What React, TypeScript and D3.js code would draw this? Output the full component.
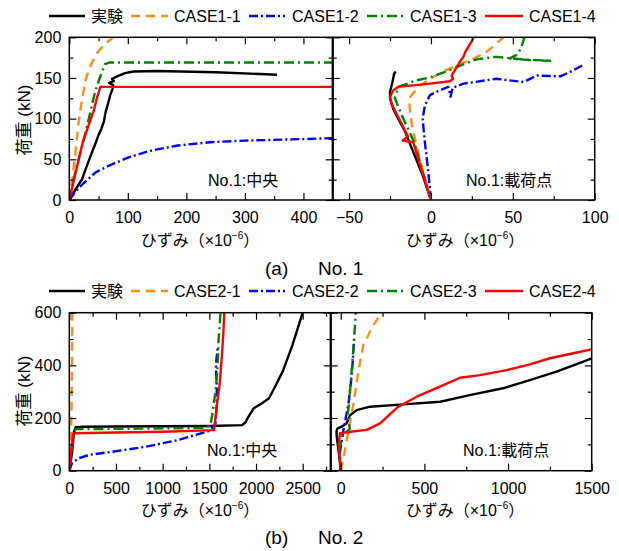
import React, { useEffect, useRef } from "react";
import * as d3 from "d3";

type Pt = [number, number];

const names1 = ["実験", "CASE1-1", "CASE1-2", "CASE1-3", "CASE1-4"];
const names2 = ["実験", "CASE2-1", "CASE2-2", "CASE2-3", "CASE2-4"];

// No.1 : 中央  (strain x10^-6, load kN)
const n1cExp: Pt[] = [[0, 0], [10, 12], [22, 26], [30, 42], [39, 59], [45, 70], [50, 80], [55, 88], [59, 96], [62, 108], [66, 118], [70, 129], [74, 137], [75, 141], [68, 144], [76, 146], [73, 149], [85, 153], [95, 156], [110, 158], [150, 158.5], [250, 157], [355, 154]];
const n1cC1: Pt[] = [[0, 0], [5, 25], [10, 55], [16, 96], [22, 125], [28, 148], [35, 163], [45, 178], [58, 190], [75, 200]];
const n1cC2: Pt[] = [[0, 0], [10, 10], [22, 19], [45, 34], [70, 43], [100, 52], [135, 60], [185, 67], [240, 71], [300, 73], [380, 74.5], [450, 76]];
const n1cC3: Pt[] = [[0, 0], [12, 40], [24, 72], [35, 105], [44, 133], [52, 150], [61, 167], [68, 169], [450, 169]];
const n1cC4: Pt[] = [[0, 0], [23, 71], [33, 92], [42, 110], [47, 125], [53, 139], [450, 139]];

// No.1 : 載荷点
const n1lExp: Pt[] = [[0, 0], [-5, 30], [-10, 55], [-12, 65], [-16, 85], [-20, 100], [-23, 112], [-25, 125], [-25, 133], [-23.5, 145], [-22.5, 155], [-21.5, 158]];
const n1lC1: Pt[] = [[0, 0], [-4.7, 34], [-8.8, 67], [-11.8, 94], [-12.9, 112], [-13.3, 125], [-7.7, 139], [-0.6, 149], [9.6, 160], [24, 172], [34, 182], [44.4, 200]];
const n1lC2: Pt[] = [[0, 0], [-1.6, 34], [-3.7, 71], [-5.1, 100], [-3.7, 116], [-0.6, 129], [5.5, 135], [10.6, 139], [12, 127], [13.2, 138], [19.8, 143], [40, 149], [56.5, 145], [64.7, 153], [79, 152], [85, 157.5], [93, 166]];
const n1lC3: Pt[] = [[0, 0], [-10, 70], [-18, 105], [-22, 125], [-20, 139], [-9, 147], [0, 151], [12, 160], [20, 167], [28, 173], [40, 176], [55, 173], [74, 171], [60, 172], [48, 174], [52, 178], [55, 186], [57, 200]];
const n1lC4: Pt[] = [[0, 0], [-5.5, 35], [-10.8, 71], [-17.3, 73], [-14, 78], [-19, 98], [-24, 118], [-25, 127], [-23, 135], [-20, 139], [-0.6, 143], [11.6, 146], [13.6, 149], [12.6, 153], [17.7, 170], [19.8, 176], [21, 182], [26, 199]];

// No.2 : 中央
const n2cExp: Pt[] = [[0, 0], [30, 70], [50, 148], [70, 165], [150, 167], [500, 168], [1000, 169], [1500, 170], [1850, 173], [1890, 185], [1910, 200], [1975, 237], [2060, 255], [2140, 275], [2220, 330], [2290, 380], [2390, 477], [2500, 600]];
const n2cC1: Pt[] = [[0, 0], [15, 120], [22, 200], [27, 350], [30, 500], [32, 600]];
const n2cC2: Pt[] = [[0, 0], [30, 30], [100, 47], [210, 60], [460, 72], [820, 91], [1170, 117], [1500, 151], [1565, 175], [1580, 250], [1580, 320], [1570, 400], [1590, 470]];
const n2cC3: Pt[] = [[0, 0], [30, 80], [55, 150], [70, 158], [200, 158], [800, 160], [1450, 163], [1510, 172], [1530, 210], [1565, 300], [1585, 376], [1600, 500], [1620, 600]];
const n2cC4: Pt[] = [[0, 0], [40, 140], [60, 142], [500, 145], [1000, 148], [1550, 154], [1565, 200], [1585, 260], [1610, 325], [1635, 440], [1650, 520], [1660, 600]];

// No.2 : 載荷点
const n2lExp: Pt[] = [[0, 0], [-8, 50], [-18, 100], [-24, 130], [-25, 150], [-20, 160], [5, 167], [35, 180], [55, 210], [95, 230], [175, 243], [375, 252], [595, 262], [770, 287], [970, 313], [1130, 344], [1290, 376], [1450, 414], [1500, 427]];
const n2lC1: Pt[] = [[0, 0], [20, 60], [40, 130], [60, 200], [75, 250], [105, 376], [135, 477], [195, 553], [245, 600]];
const n2lC2: Pt[] = [[0, 0], [-5, 70], [15, 150], [30, 200], [45, 250], [60, 330], [70, 400], [80, 500]];
const n2lC3: Pt[] = [[0, 0], [-8, 80], [10, 130], [55, 160], [40, 200], [50, 260], [65, 376], [80, 503], [90, 600]];
const n2lC4: Pt[] = [[2, 0], [-14, 98], [-4, 142], [56, 148], [155, 155], [235, 180], [344, 243], [454, 281], [593, 319], [713, 353], [832, 363], [992, 382], [1131, 404], [1250, 427], [1390, 446], [1500, 461]];

const STYLES = [
  { color: "#000000", dash: null as string | null },
  { color: "#ff8c1a", dash: "9,6" },
  { color: "#0000ff", dash: "9,3,2,3" },
  { color: "#008000", dash: "10,4,2,4" },
  { color: "#ff0000", dash: null as string | null },
];

const FONT = "'Liberation Sans', Arial, 'Noto Sans CJK JP', sans-serif";

const App = () => {
  const svgRef = useRef<SVGSVGElement>(null);

  useEffect(() => {
    const svg = d3.select(svgRef.current).attr("width", 619).attr("height", 551);
    svg.selectAll("*").remove();
    svg.attr("font-family", FONT);

    const groups = [
      {
        names: names1, legendY: 16, yLabelY: 120, xLabelY: 246, caption: ["(a)", "No. 1"], captionY: 275,
        y: d3.scaleLinear().domain([0, 200]).range([200, 37.3]),
        yMajor: [0, 50, 100, 150, 200], yMinor: [25, 75, 125, 175],
        panels: [
          { x: d3.scaleLinear().domain([0, 450]).range([69.3, 332.7]), major: [0, 100, 200, 300, 400], minor: [50, 150, 250, 350], data: [n1cExp, n1cC1, n1cC2, n1cC3, n1cC4], note: "No.1:中央", noteX: 208, xLabelX: 200, labelsY: true },
          { x: d3.scaleLinear().domain([-60, 100]).range([332.7, 594.7]), major: [-50, 0, 50, 100], minor: [-25, 25, 75], data: [n1lExp, n1lC1, n1lC2, n1lC3, n1lC4], note: "No.1:載荷点", noteX: 466, xLabelX: 465, labelsY: false },
        ],
      },
      {
        names: names2, legendY: 291, yLabelY: 391, xLabelY: 516, caption: ["(b)", "No. 2"], captionY: 544,
        y: d3.scaleLinear().domain([0, 600]).range([470.7, 312.7]),
        yMajor: [0, 200, 400, 600], yMinor: [100, 300, 500],
        panels: [
          { x: d3.scaleLinear().domain([0, 2800]).range([69.3, 330.7]), major: [0, 500, 1000, 1500, 2000, 2500], minor: [250, 750, 1250, 1750, 2250, 2750], data: [n2cExp, n2cC1, n2cC2, n2cC3, n2cC4], note: "No.1:中央", noteX: 207, xLabelX: 200, labelsY: true },
          { x: d3.scaleLinear().domain([-60, 1500]).range([330.7, 591.7]), major: [0, 500, 1000, 1500], minor: [250, 750, 1250], data: [n2lExp, n2lC1, n2lC2, n2lC3, n2lC4], note: "No.1:載荷点", noteX: 463, xLabelX: 465, labelsY: false },
        ],
      },
    ];

    const legendPos = [[49, 85, 91], [131, 168, 174], [249, 285, 292], [367, 405, 410], [485, 523, 529]];

    groups.forEach((grp, gi) => {
      const y = grp.y;
      const [y0, y1] = y.range();

      // legend
      grp.names.forEach((name, i) => {
        const [a, b, t] = legendPos[i];
        svg.append("line")
          .attr("x1", a).attr("x2", b).attr("y1", grp.legendY).attr("y2", grp.legendY)
          .attr("stroke", STYLES[i].color).attr("stroke-width", 2.5)
          .attr("stroke-dasharray", STYLES[i].dash);
        svg.append("text")
          .attr("x", t).attr("y", grp.legendY).attr("dy", "0.36em")
          .attr("font-size", 16).text(name);
      });

      grp.panels.forEach((p, pi) => {
        const x = p.x;
        const [x0, x1] = x.range();
        const clipId = `clip-${gi}-${pi}`;
        svg.append("clipPath").attr("id", clipId)
          .append("rect").attr("x", x0).attr("y", y1).attr("width", x1 - x0).attr("height", y0 - y1);

        const line = d3.line<Pt>().x(d => x(d[0])).y(d => y(d[1]));
        const lg = svg.append("g").attr("clip-path", `url(#${clipId})`);
        p.data.forEach((s, i) => {
          lg.append("path")
            .datum(s)
            .attr("d", line)
            .attr("fill", "none")
            .attr("stroke", STYLES[i].color)
            .attr("stroke-width", 2.4)
            .attr("stroke-linejoin", "round")
            .attr("stroke-dasharray", STYLES[i].dash);
        });

        // ticks, all pointing inward
        const addAxis = (axis: any, tx: number, ty: number, fs = 15) => {
          const a = svg.append("g").attr("transform", `translate(${tx},${ty})`).call(axis);
          a.select(".domain").remove();
          a.selectAll("line").attr("stroke-width", 1.2);
          a.selectAll("text").attr("font-size", fs).attr("font-family", FONT).attr("fill", "#000");
          return a;
        };
        const fmt = (d: any) => String(d).replace("-", "−");
        addAxis(d3.axisBottom(x).tickValues(p.major).tickSize(-7).tickPadding(12).tickFormat(fmt), 0, y0, 16);
        addAxis(d3.axisBottom(x).tickValues(p.minor).tickSize(-4).tickFormat(() => ""), 0, y0);
        addAxis(d3.axisTop(x).tickValues(p.major).tickSize(-7).tickFormat(() => ""), 0, y1);
        addAxis(d3.axisTop(x).tickValues(p.minor).tickSize(-4).tickFormat(() => ""), 0, y1);
        addAxis(d3.axisLeft(y).tickValues(grp.yMajor).tickSize(-7).tickPadding(8)
          .tickFormat(p.labelsY ? (d: any) => String(d) : () => ""), x0, 0, 16);
        addAxis(d3.axisLeft(y).tickValues(grp.yMinor).tickSize(-4).tickFormat(() => ""), x0, 0);
        addAxis(d3.axisRight(y).tickValues(grp.yMajor).tickSize(-7).tickFormat(() => ""), x1, 0);
        addAxis(d3.axisRight(y).tickValues(grp.yMinor).tickSize(-4).tickFormat(() => ""), x1, 0);

        svg.append("rect")
          .attr("x", x0).attr("y", y1).attr("width", x1 - x0).attr("height", y0 - y1)
          .attr("fill", "none").attr("stroke", "#000").attr("stroke-width", 1.5);

        svg.append("text")
          .attr("x", p.noteX).attr("y", y0 - 20).attr("dy", "0.36em")
          .attr("font-size", 16).text(p.note);

        const xl = svg.append("text")
          .attr("x", p.xLabelX).attr("y", grp.xLabelY).attr("text-anchor", "middle")
          .attr("font-size", 16);
        xl.append("tspan").text("ひずみ（×10");
        xl.append("tspan").attr("font-size", 10).attr("dy", -7).text("−6");
        xl.append("tspan").attr("dy", 7).text("）");
      });

      // divider between the two panels
      const xd = grp.panels[0].x.range()[1];
      svg.append("line").attr("x1", xd).attr("x2", xd).attr("y1", y1).attr("y2", y0)
        .attr("stroke", "#000").attr("stroke-width", 2);

      svg.append("text")
        .attr("transform", `translate(24,${grp.yLabelY}) rotate(-90)`)
        .attr("text-anchor", "middle").attr("dy", "0.36em")
        .attr("font-size", 17).text("荷重 (kN)");

      svg.append("text").attr("x", 265).attr("y", grp.captionY).attr("font-size", 19).text(grp.caption[0]);
      svg.append("text").attr("x", 318).attr("y", grp.captionY).attr("font-size", 19).text(grp.caption[1]);
    });
  }, []);

  return <svg ref={svgRef} style={{ position: "absolute", left: 0, top: 0, background: "#fff" }}></svg>;
};

export default App;
